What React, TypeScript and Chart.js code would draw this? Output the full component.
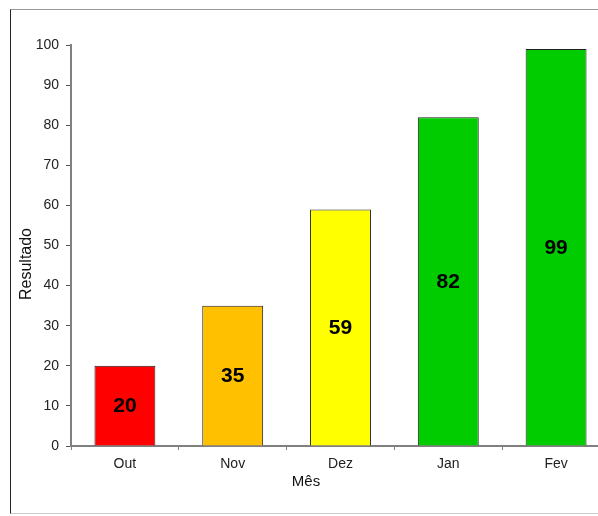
import React, { useEffect, useRef } from "react";
import { Chart, registerables } from "chart.js";

Chart.register(...registerables);

const months = ["Out", "Nov", "Dez", "Jan", "Fev"];
const results = [20, 35, 59, 82, 99];
const barColors = ["#FF0000", "#FFC000", "#FFFF00", "#00CC00", "#00CC00"];
const yTicks = [0, 10, 20, 30, 40, 50, 60, 70, 80, 90, 100];
const xTitle = "Mês";
const yTitle = "Resultado";

const FONT = "'Liberation Sans', Arial, sans-serif";

// Writes each value in bold at the middle of its bar.
const valueLabels = {
  id: "valueLabels",
  afterDatasetsDraw(chart: any) {
    const { ctx } = chart;
    const meta = chart.getDatasetMeta(0);
    ctx.save();
    ctx.font = `bold 21px ${FONT}`;
    ctx.fillStyle = "#000";
    ctx.textAlign = "center";
    ctx.textBaseline = "middle";
    meta.data.forEach((bar: any, i: number) => {
      const mid = (bar.y + bar.base) / 2;
      ctx.fillText(String(results[i]), bar.x, mid + 1);
    });
    ctx.restore();
  },
};

// Axis titles placed by hand.
const axisTitles = {
  id: "axisTitles",
  afterDraw(chart: any) {
    const { ctx } = chart;
    ctx.save();
    ctx.fillStyle = "#111";
    ctx.textAlign = "center";
    ctx.textBaseline = "middle";
    ctx.font = `15px ${FONT}`;
    ctx.fillText(xTitle, 306, 482);
    ctx.translate(27, 264);
    ctx.rotate(-Math.PI / 2);
    ctx.font = `16px ${FONT}`;
    ctx.fillText(yTitle, 0, 0);
    ctx.restore();
  },
};

export default function App() {
  const ref = useRef<HTMLCanvasElement>(null);

  useEffect(() => {
    const chart = new Chart(ref.current!, {
      type: "bar",
      data: {
        labels: months,
        datasets: [
          {
            data: results,
            backgroundColor: barColors,
            borderColor: "#222",
            borderWidth: 1,
            barPercentage: 0.565,
            categoryPercentage: 1,
          },
        ],
      },
      options: {
        animation: false,
        responsive: false,
        devicePixelRatio: 1,
        layout: { padding: { top: 45, left: 0, right: 10, bottom: 0 } },
        plugins: {
          legend: { display: false },
          tooltip: { enabled: false },
        },
        scales: {
          x: {
            offset: true,
            afterFit: (s: any) => {
              s.height = 70;
            },
            grid: {
              drawOnChartArea: false,
              drawTicks: true,
              tickLength: 4,
              color: "#808080",
              offset: true,
            },
            border: { color: "#808080", width: 2 },
            ticks: {
              color: "#222",
              font: { family: FONT, size: 14 },
              padding: 6,
              maxRotation: 0,
            },
          },
          y: {
            min: 0,
            max: 100,
            afterFit: (s: any) => {
              s.width = 71;
            },
            afterBuildTicks: (s: any) => {
              s.ticks = yTicks.map((v) => ({ value: v }));
            },
            grid: {
              drawOnChartArea: false,
              drawTicks: true,
              tickLength: 5,
              color: "#555",
            },
            border: { color: "#808080", width: 2 },
            ticks: {
              color: "#222",
              font: { family: FONT, size: 14 },
              padding: 7,
            },
          },
        },
      },
      plugins: [valueLabels, axisTitles],
    });
    return () => chart.destroy();
  }, []);

  return (
    <div
      style={{
        position: "fixed",
        left: 0,
        top: 0,
        width: 598,
        height: 516,
        overflow: "hidden",
        background: "#fff",
      }}
    >
      <canvas
        ref={ref}
        width={620}
        height={516}
        style={{ position: "absolute", left: 0, top: 0, width: 620, height: 516 }}
      />
      <div
        style={{
          position: "absolute",
          left: 10,
          top: 9,
          width: 600,
          height: 503,
          borderTop: "1px solid #999",
          borderLeft: "1px solid #222",
          borderBottom: "1px solid #ccc",
          pointerEvents: "none",
        }}
      />
    </div>
  );
}
